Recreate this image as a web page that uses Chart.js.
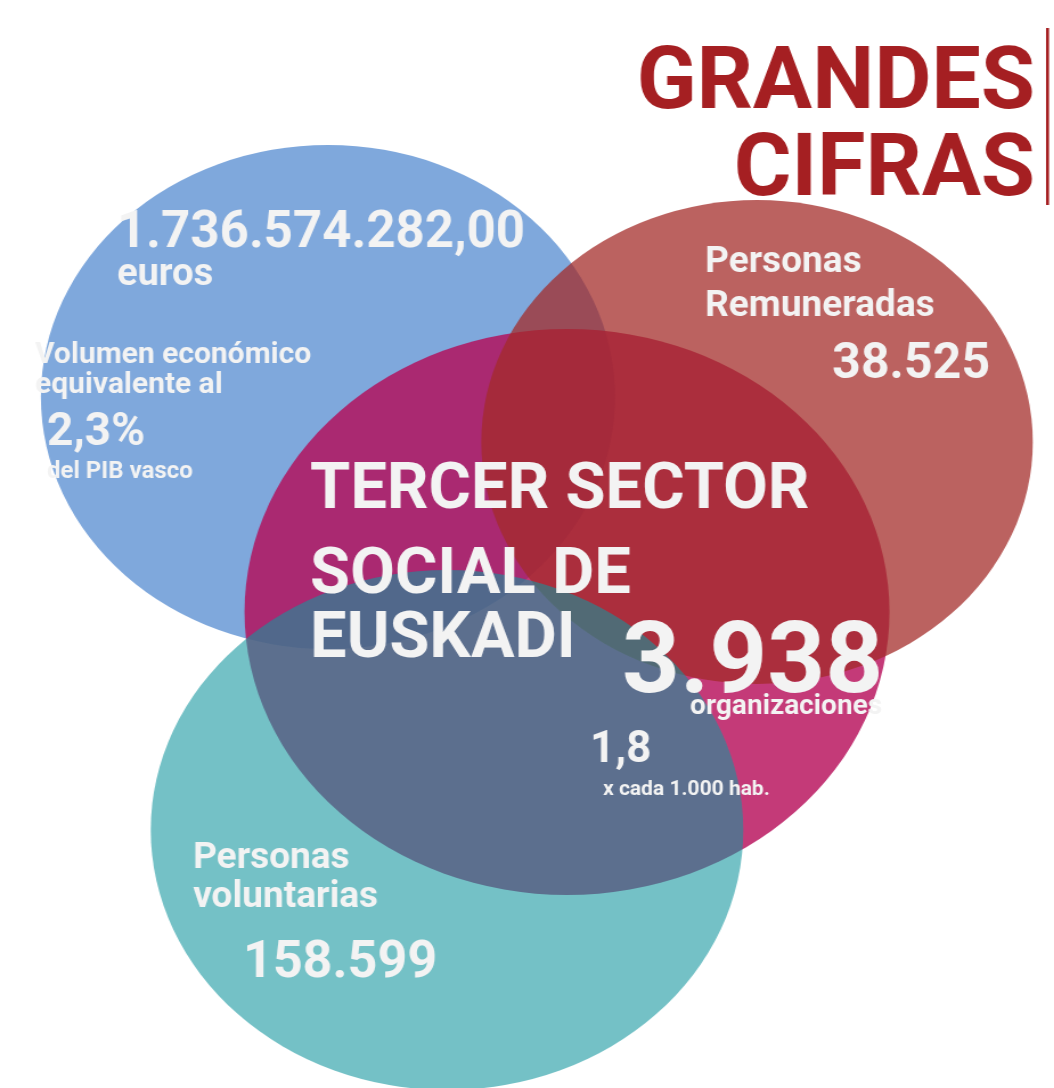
<!DOCTYPE html>
<html>
<head>
<meta charset="utf-8">
<script src="https://cdn.jsdelivr.net/npm/chart.js@4.4.1/dist/chart.umd.min.js"></script>
<style>
html, body { margin: 0; padding: 0; background: #fff; overflow: hidden; }
#grafico { display: block; transform-origin: 0 0; transform: scaleX(1.1395); }
</style>
</head>
<body>
<canvas id="grafico" width="925" height="1088"></canvas>
<script>
// zonas del diagrama, en orden de dibujo (la ultima queda encima)
const zonas = ['Volumen económico', 'Organizaciones', 'Personas Remuneradas', 'Personas voluntarias'];
const centroX = [328, 567, 757, 447];
const centroY = [397, 612, 442, 830];
const radio = [252, 283, 242, 260];
const cifras = ['1.736.574.282,00', '3.938', '38.525', '158.599'];
const colores = ['rgba(127,168,220,1)', 'rgba(181,9,86,0.8)', 'rgba(163,43,40,0.74)', 'rgba(18,150,158,0.59)'];

const ESTIRAR = 1054 / 925; // el lienzo se estira en horizontal para que los circulos sean elipses
const BLANCO = '#f3f3f3';
const GRANATE = '#a51f22';

const rotulos = [
	{t: 'GRANDES', x: 1035, y: 108, s: 88, a: 'right', c: GRANATE},
	{t: 'CIFRAS', x: 1035, y: 195, s: 88, a: 'right', c: GRANATE},
	{t: cifras[0], x: 117, y: 247, s: 51},
	{t: 'euros', x: 117, y: 285, s: 38},
	{t: 'Volumen económico', x: 35, y: 363, s: 30},
	{t: 'equivalente al', x: 35, y: 393, s: 30},
	{t: '2,3%', x: 47, y: 445, s: 46},
	{t: 'del PIB vasco', x: 47, y: 478, s: 24},
	{t: 'Personas', x: 705, y: 272, s: 37},
	{t: 'Remuneradas', x: 705, y: 316, s: 37},
	{t: cifras[2], x: 990, y: 378, s: 50, a: 'right'},
	{t: 'TERCER SECTOR', x: 310, y: 508, s: 65},
	{t: 'SOCIAL DE', x: 310, y: 593, s: 65},
	{t: 'EUSKADI', x: 310, y: 657, s: 65},
	{t: cifras[1], x: 622, y: 692, s: 101},
	{t: 'organizaciones', x: 690, y: 714, s: 28},
	{t: '1,8', x: 590, y: 762, s: 44},
	{t: 'x cada 1.000 hab.', x: 603, y: 795, s: 21},
	{t: 'Personas', x: 193, y: 868, s: 37},
	{t: 'voluntarias', x: 193, y: 907, s: 37},
	{t: cifras[3], x: 243, y: 977, s: 52}
];

const textos = {
	id: 'textos',
	afterDatasetsDraw(chart) {
		const ctx = chart.ctx;
		const sx = chart.scales.x;
		const sy = chart.scales.y;

		// barra vertical junto al titulo
		ctx.save();
		ctx.translate(sx.getPixelForValue(1046), 0);
		ctx.scale(1 / ESTIRAR, 1);
		ctx.fillStyle = GRANATE;
		ctx.fillRect(0, sy.getPixelForValue(28), 3, sy.getPixelForValue(205) - sy.getPixelForValue(28));
		ctx.restore();

		rotulos.forEach((r) => {
			ctx.save();
			ctx.translate(sx.getPixelForValue(r.x), sy.getPixelForValue(r.y));
			ctx.scale(1 / ESTIRAR, 1);
			ctx.font = 'bold ' + r.s + 'px Roboto';
			ctx.fillStyle = r.c || BLANCO;
			ctx.textAlign = r.a || 'left';
			ctx.textBaseline = 'alphabetic';
			ctx.fillText(r.t, 0, 0);
			ctx.restore();
		});
	}
};

function construyePuntos() {
	let temp = [];
	zonas.map((v, i) => {
		temp.push({x: centroX[i], y: centroY[i], r: radio[i]});
	});
	return temp;
}

new Chart(document.getElementById('grafico'), {
	type: 'bubble',
	data: {
		labels: zonas,
		datasets: [{
			label: 'Tercer Sector Social de Euskadi',
			data: construyePuntos(),
			backgroundColor: colores,
			borderWidth: 0,
			clip: false
		}]
	},
	options: {
		responsive: false,
		animation: false,
		devicePixelRatio: 1,
		layout: { padding: 0, autoPadding: false },
		plugins: {
			legend: { display: false },
			tooltip: { enabled: false }
		},
		scales: {
			x: { type: 'linear', min: 0, max: 1054, display: false },
			y: { type: 'linear', min: 0, max: 1088, reverse: true, display: false }
		}
	},
	plugins: [textos]
});
</script>
</body>
</html>
